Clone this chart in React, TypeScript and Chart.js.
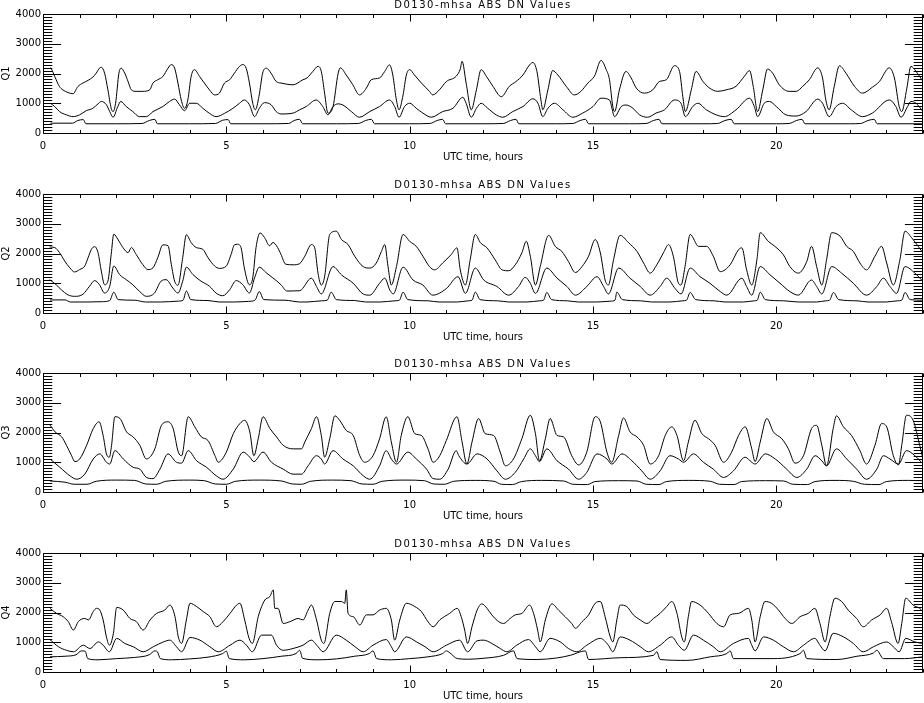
import React, { useEffect, useRef } from 'react';
import { Chart, registerables } from 'chart.js';

Chart.register(...registerables);
Chart.defaults.font.family = '"DejaVu Sans", sans-serif';
Chart.defaults.font.size = 10;
Chart.defaults.color = '#000';

type Pt = [number, number];

const chartTitle = 'D0130-mhsa ABS DN Values';
const xAxisTitle = 'UTC time, hours';
const panelNames = ['Q1', 'Q2', 'Q3', 'Q4'];
const xTickValues = [0, 5, 10, 15, 20];
const yTickValues = [0, 1000, 2000, 3000, 4000];

// Q1: upper, middle, lower traces (hour, DN)
const q1Upper: Pt[] = [
  [0.2, 2190], [0.23, 2150], [0.32, 1900], [0.45, 1560], [0.54, 1450], [0.68, 1360], [0.82, 1320], [0.95, 1560],
  [1.09, 1680], [1.23, 1770], [1.36, 1880], [1.45, 2010], [1.54, 2180], [1.59, 2210], [1.68, 2010], [1.77, 1450],
  [1.86, 830], [1.91, 720], [1.98, 1000], [2.07, 2010], [2.13, 2180], [2.23, 2010], [2.32, 1730], [2.41, 1450],
  [2.54, 1400], [2.72, 1400], [2.91, 1450], [3.0, 1680], [3.13, 1790], [3.27, 1900], [3.41, 2180], [3.5, 2300],
  [3.59, 2180], [3.68, 1680], [3.77, 1110], [3.86, 830], [3.95, 1110], [4.04, 1900], [4.13, 2130], [4.27, 1900],
  [4.4, 1680], [4.54, 1450], [4.68, 1280], [4.81, 1340], [4.95, 1680], [5.09, 1790], [5.22, 2010], [5.36, 2240],
  [5.45, 2300], [5.54, 2180], [5.63, 1680], [5.72, 1000], [5.79, 780], [5.89, 1230], [5.99, 2010], [6.09, 2180],
  [6.22, 2010], [6.36, 1730], [6.49, 1680], [6.82, 1620], [7.09, 1790],
  [7.2, 1850], [7.36, 2070], [7.5, 2240], [7.59, 2070], [7.68, 1340], [7.77, 670], [7.91, 890], [8.05, 2010],
  [8.11, 2190], [8.27, 1950], [8.45, 1620], [8.63, 1280], [8.82, 1510], [8.95, 1790], [9.18, 1850], [9.32, 2070],
  [9.45, 2290], [9.54, 1950], [9.63, 1170], [9.71, 780], [9.82, 1280], [9.91, 1950], [10.0, 2130], [10.13, 1950],
  [10.32, 1680], [10.54, 1400], [10.63, 1280], [10.81, 1450], [11.0, 1730], [11.27, 1910], [11.38, 2150], [11.43, 2410],
  [11.54, 1680], [11.68, 780], [11.82, 1450], [11.95, 2130], [12.09, 1910], [12.27, 1570], [12.5, 1220], [12.72, 1570],
  [12.9, 1730], [13.09, 1950], [13.27, 2290], [13.36, 2370], [13.47, 2070], [13.58, 1110], [13.63, 780], [13.77, 1450],
  [13.9, 2100], [14.04, 1950], [14.27, 1570], [14.49, 1280], [14.67, 1400], [14.86, 1680], [15.04, 1910], [15.22, 2440],
  [15.36, 2130], [15.45, 1790], [15.54, 890], [15.59, 720], [15.72, 1450], [15.9, 2070], [16.04, 1850], [16.18, 1510],
  [16.4, 1340], [16.63, 1450], [16.81, 1730], [17.0, 1790], [17.22, 2260], [17.36, 2070], [17.45, 1220], [17.52, 720],
  [17.68, 1450], [17.81, 2070], [18.0, 1730], [18.18, 1510], [18.4, 1400], [18.63, 1450], [18.9, 1570], [19.13, 1910],
  [19.27, 2100], [19.37, 1570], [19.49, 720], [19.63, 1450], [19.76, 2150], [19.9, 2010], [20.08, 1620], [20.35, 1400],
  [20.54, 1400], [20.72, 1570], [20.9, 1790], [21.13, 2190], [21.26, 1850], [21.35, 1110], [21.44, 780], [21.58, 1570],
  [21.72, 2260], [21.9, 2010], [22.13, 1570], [22.35, 1340], [22.62, 1540], [22.81, 1730], [23.08, 2190], [23.22, 1850],
  [23.35, 890], [23.42, 720], [23.56, 1510], [23.67, 2240], [23.81, 2070], [24.0, 1730],
];
const q1Middle: Pt[] = [
  [0.2, 1000], [0.32, 890], [0.45, 720], [0.64, 610], [0.82, 550], [1.0, 610], [1.18, 750], [1.36, 830],
  [1.5, 980], [1.59, 1060], [1.73, 950], [1.82, 720], [1.91, 530], [2.04, 890], [2.12, 1060], [2.27, 890],
  [2.45, 720], [2.63, 550], [2.82, 550], [3.0, 720], [3.27, 890], [3.45, 1060], [3.59, 1140], [3.72, 950],
  [3.86, 750], [4.0, 1000], [4.18, 1000], [4.36, 830], [4.54, 660], [4.72, 550], [4.95, 660], [5.18, 830],
  [5.36, 1000], [5.49, 1110], [5.63, 950], [5.77, 550], [5.9, 830], [6.04, 1020], [6.22, 950], [6.36, 720],
  [6.49, 640], [6.82, 670],
  [7.0, 780], [7.18, 890], [7.45, 1110], [7.63, 890], [7.77, 610], [7.91, 890], [8.05, 980], [8.18, 940],
  [8.41, 720], [8.63, 530], [8.91, 720], [9.18, 890], [9.45, 1110], [9.59, 890], [9.71, 530], [9.86, 890],
  [10.0, 1000], [10.18, 830], [10.36, 670], [10.59, 530], [10.9, 720], [11.18, 830], [11.45, 1200], [11.54, 1000],
  [11.68, 530], [11.82, 830], [11.95, 1000], [12.13, 830], [12.36, 610], [12.54, 530], [12.81, 720], [13.09, 890],
  [13.36, 1150], [13.5, 1000], [13.63, 550], [13.77, 830], [13.95, 1000], [14.18, 780], [14.45, 530], [14.72, 670],
  [15.0, 890], [15.22, 1170], [15.45, 1110], [15.59, 550], [15.77, 890], [15.9, 940], [16.09, 830], [16.27, 610],
  [16.49, 530], [16.72, 670], [16.95, 780], [17.22, 1110], [17.4, 1000], [17.52, 550], [17.72, 890], [17.86, 1000],
  [18.09, 780], [18.36, 610], [18.58, 550], [18.9, 780], [19.27, 1170], [19.4, 890], [19.49, 550], [19.67, 1000],
  [19.81, 1060], [20.0, 890], [20.26, 610], [20.54, 570], [20.81, 720], [21.13, 1140], [21.26, 1000], [21.44, 550],
  [21.63, 890], [21.81, 1000], [22.04, 780], [22.35, 550], [22.62, 670], [23.08, 1110], [23.26, 890], [23.4, 530],
  [23.58, 890], [23.67, 1060], [23.81, 1000], [24.0, 720],
];
const q1Lower: Pt[] = [
  [0.2, 330], [0.8, 330], [0.95, 420], [1.1, 450], [1.17, 310], [2.0, 310], [2.7, 320], [2.9, 420],
  [3.05, 460], [3.12, 310], [4.0, 310], [4.7, 320], [4.9, 430], [5.05, 450], [5.12, 310], [6.0, 310],
  [6.7, 320], [6.85, 420], [7.0, 460], [7.08, 310], [8.0, 310], [8.6, 320], [8.8, 420], [8.96, 460],
  [9.04, 310], [10.0, 310], [10.55, 320], [10.75, 420], [10.9, 460], [10.98, 310], [12.0, 310], [12.55, 320],
  [12.75, 420], [12.9, 460], [12.98, 310], [14.0, 310], [14.45, 320], [14.65, 420], [14.8, 460], [14.88, 310],
  [16.0, 310], [16.45, 320], [16.65, 420], [16.8, 460], [16.88, 310], [18.0, 310], [18.4, 320], [18.6, 420],
  [18.77, 460], [18.85, 310], [20.0, 310], [20.35, 320], [20.55, 420], [20.7, 460], [20.78, 310], [22.0, 310],
  [22.3, 320], [22.5, 420], [22.67, 460], [22.75, 310], [24.0, 310],
];

// Q2
const q2Upper: Pt[] = [
  [0.18, 2220], [0.32, 2200], [0.45, 2030], [0.59, 1750], [0.73, 1520], [0.86, 1380], [1.0, 1460], [1.14, 1580],
  [1.23, 1860], [1.32, 2140], [1.41, 2230], [1.5, 2030], [1.59, 1410], [1.68, 950], [1.77, 1070], [1.86, 1970],
  [1.93, 2650], [2.04, 2480], [2.18, 2200], [2.32, 2030], [2.41, 2200], [2.54, 1970], [2.72, 1630], [2.86, 1460],
  [3.0, 1520], [3.13, 1860], [3.27, 2290], [3.41, 2260], [3.5, 1630], [3.59, 1070], [3.68, 930], [3.81, 1860],
  [3.91, 2630], [4.04, 2370], [4.18, 2200], [4.36, 2140], [4.5, 1860], [4.68, 1580], [4.81, 1500], [5.0, 1580],
  [5.13, 1970], [5.22, 2290], [5.31, 2310], [5.4, 2200], [5.49, 1520], [5.63, 950], [5.72, 1180], [5.81, 2200],
  [5.92, 2690], [6.04, 2540], [6.18, 2260], [6.27, 2370], [6.4, 2200], [6.49, 1970], [6.62, 1640], [6.82, 1620],
  [7.0, 1660], [7.14, 1910], [7.32, 2300], [7.41, 2190],
  [7.5, 1340], [7.59, 940], [7.68, 1220], [7.82, 2640], [8.0, 2750], [8.14, 2470], [8.32, 2300], [8.5, 1910],
  [8.73, 1560], [8.91, 1510], [9.09, 1680], [9.23, 2070], [9.32, 2300], [9.41, 1560], [9.5, 940], [9.64, 1560],
  [9.82, 2640], [10.0, 2410], [10.18, 2240], [10.36, 1910], [10.54, 1560], [10.68, 1450], [10.9, 1680], [11.13, 1960],
  [11.29, 2190], [11.38, 1450], [11.52, 940], [11.65, 1790], [11.79, 2640], [11.93, 2360], [12.11, 2190], [12.33, 1790],
  [12.52, 1450], [12.7, 1420], [12.88, 1620], [13.06, 2020], [13.18, 2410], [13.29, 1910], [13.43, 940], [13.56, 1560],
  [13.79, 2610], [13.97, 2240], [14.15, 2070], [14.33, 1730], [14.52, 1360], [14.7, 1560], [14.88, 1910], [15.06, 2470],
  [15.2, 2020], [15.33, 1110], [15.42, 940], [15.56, 1790], [15.74, 2610], [15.97, 2360], [16.2, 2070], [16.38, 1680],
  [16.56, 1340], [16.74, 1620], [16.92, 2020], [17.06, 2300], [17.19, 1910], [17.33, 1000], [17.4, 940], [17.51, 1560],
  [17.65, 2640], [17.88, 2240], [18.1, 2240], [18.28, 1910], [18.47, 1390], [18.74, 1620], [18.97, 2130], [19.06, 2190],
  [19.19, 1450], [19.33, 940], [19.47, 1790], [19.56, 2700], [19.78, 2410], [19.96, 2240], [20.19, 1960], [20.37, 1560],
  [20.6, 1340], [20.83, 1730], [20.96, 2240], [21.1, 1560], [21.24, 940], [21.37, 1790], [21.51, 2700], [21.74, 2580],
  [21.92, 2240], [22.1, 2070], [22.28, 1680], [22.46, 1450], [22.69, 1910], [22.87, 2240], [23.01, 1680], [23.19, 940],
  [23.37, 1790], [23.51, 2750], [23.69, 2530], [23.87, 2240], [24.0, 2020],
];
const q2Middle: Pt[] = [
  [0.18, 1120], [0.36, 950], [0.5, 780], [0.68, 610], [0.86, 560], [1.09, 630], [1.27, 900], [1.41, 1090],
  [1.54, 950], [1.68, 670], [1.82, 900], [1.93, 1580], [2.09, 1290], [2.27, 1120], [2.45, 950], [2.63, 730],
  [2.82, 560], [3.04, 670], [3.22, 1070], [3.36, 1120], [3.54, 840], [3.68, 670], [3.81, 1070], [3.91, 1540],
  [4.09, 1290], [4.31, 1070], [4.54, 900], [4.72, 670], [4.9, 580], [5.09, 780], [5.27, 1090], [5.45, 950],
  [5.63, 670], [5.77, 1180], [5.9, 1540], [6.09, 1350], [6.27, 1180], [6.49, 950], [6.65, 740], [7.0, 750],
  [7.32, 1170], [7.46, 890], [7.59, 640], [7.91, 1560], [8.14, 1280], [8.46, 1000],
  [8.73, 640], [8.91, 600], [9.18, 1000], [9.32, 1170], [9.46, 770], [9.55, 640], [9.82, 1540], [10.09, 1110],
  [10.36, 940], [10.63, 600], [11.0, 820], [11.32, 1220], [11.52, 660], [11.79, 1510], [12.02, 1110], [12.38, 890],
  [12.7, 600], [12.97, 890], [13.15, 1200], [13.29, 1000], [13.43, 660], [13.74, 1510], [14.02, 1170], [14.29, 890],
  [14.52, 600], [14.83, 890], [15.11, 1220], [15.29, 890], [15.42, 640], [15.7, 1510], [16.01, 1170], [16.29, 890],
  [16.56, 600], [16.83, 890], [17.01, 1170], [17.24, 820], [17.4, 640], [17.65, 1510], [17.92, 1220], [18.19, 1000],
  [18.47, 720], [18.65, 600], [19.06, 1170], [19.19, 890], [19.33, 600], [19.56, 1560], [19.83, 1280], [20.1, 1000],
  [20.37, 720], [20.6, 600], [20.96, 1110], [21.1, 890], [21.24, 640], [21.51, 1560], [21.78, 1340], [22.1, 1000],
  [22.46, 600], [22.74, 890], [22.92, 1170], [23.1, 890], [23.28, 660], [23.51, 1560], [23.78, 1340], [24.0, 1060],
];
const q2Lower: Pt[] = [
  [0.19, 440], [0.6, 440], [0.75, 370], [1.2, 370], [1.6, 380], [1.82, 420], [1.93, 700], [2.05, 450],
  [2.5, 430], [2.8, 370], [3.2, 370], [3.7, 400], [3.82, 430], [3.91, 740], [4.03, 450], [4.5, 420],
  [4.8, 370], [5.2, 370], [5.6, 390], [5.78, 430], [5.9, 720], [6.02, 450], [6.6, 430], [7.0, 370],
  [7.2, 370], [7.6, 410], [7.75, 430], [7.86, 700], [8.0, 450], [8.5, 420], [8.8, 370], [9.2, 370],
  [9.6, 410], [9.72, 430], [9.82, 700], [9.95, 450], [10.5, 410], [10.8, 370], [11.3, 370], [11.6, 410],
  [11.7, 430], [11.79, 700], [11.92, 450], [12.4, 410], [12.7, 370], [13.2, 370], [13.55, 410], [13.65, 430],
  [13.74, 690], [13.87, 450], [14.3, 410], [14.6, 370], [15.1, 370], [15.5, 400], [15.6, 430], [15.65, 700],
  [15.8, 450], [16.3, 410], [16.6, 370], [17.1, 370], [17.45, 410], [17.55, 430], [17.65, 690], [17.8, 450],
  [18.3, 410], [18.6, 370], [19.1, 370], [19.4, 410], [19.48, 430], [19.56, 700], [19.7, 450], [20.2, 410],
  [20.6, 370], [21.1, 370], [21.35, 410], [21.45, 430], [21.56, 690], [21.7, 450], [22.2, 410], [22.5, 370],
  [23.0, 370], [23.3, 410], [23.42, 430], [23.51, 690], [23.65, 450], [24.0, 430],
];

// Q3
const q3Upper: Pt[] = [
  [0.19, 2250], [0.33, 2020], [0.51, 1850], [0.64, 1570], [0.78, 1220], [0.87, 1020], [1.0, 1110], [1.19, 1570],
  [1.37, 2130], [1.53, 2360], [1.64, 1900], [1.73, 1280], [1.81, 1170], [1.87, 1570], [1.96, 2530], [2.1, 2470],
  [2.28, 2020], [2.46, 1850], [2.64, 1570], [2.82, 1110], [3.05, 1450], [3.23, 2240], [3.41, 2360], [3.55, 2130],
  [3.69, 1340], [3.78, 1220], [3.96, 2530], [4.14, 2190], [4.32, 1850], [4.5, 1730], [4.69, 1220], [4.78, 1000],
  [5.0, 1340], [5.19, 1960], [5.37, 2300], [5.5, 2410], [5.64, 2020], [5.75, 1220], [5.87, 1790], [6.0, 2530],
  [6.19, 2130], [6.37, 1850], [6.55, 1570], [6.82, 1450], [7.05, 1450], [7.14, 1680], [7.32, 2130], [7.46, 2530],
  [7.59, 1900], [7.68, 1170], [7.82, 1790], [7.96, 2560], [8.09, 2410], [8.27, 2070], [8.46, 1900], [8.64, 1220],
  [8.77, 1000], [9.0, 1220], [9.18, 1790], [9.36, 2530], [9.5, 1680], [9.64, 1000], [9.77, 1900], [9.95, 2530],
  [10.14, 1960], [10.32, 1900], [10.5, 1450], [10.64, 1000], [10.82, 1220], [11.0, 1730], [11.29, 2530], [11.43, 1680],
  [11.56, 940], [11.7, 1680], [11.88, 2470], [12.06, 1960], [12.29, 1900], [12.47, 1340], [12.61, 880], [12.83, 1110],
  [13.06, 1790], [13.29, 2580], [13.43, 1960], [13.54, 1050], [13.7, 1790], [13.83, 2470], [14.02, 1900], [14.2, 1850],
  [14.42, 1220], [14.61, 910], [14.83, 1340], [15.06, 2530], [15.2, 2360], [15.38, 1340], [15.51, 1000], [15.7, 1900],
  [15.83, 2490], [16.01, 2020], [16.2, 1850], [16.38, 1570], [16.56, 940], [16.79, 1220], [16.97, 1900], [17.15, 2190],
  [17.29, 1900], [17.47, 1050], [17.6, 1680], [17.78, 2410], [17.97, 1960], [18.15, 1790], [18.33, 1570], [18.56, 1000],
  [18.78, 1340], [18.97, 1900], [19.15, 2190], [19.33, 1450], [19.42, 1020], [19.56, 1680], [19.74, 2470], [19.92, 2020],
  [20.15, 1790], [20.33, 1450], [20.51, 970], [20.74, 1220], [20.96, 2130], [21.1, 2240], [21.24, 1570], [21.37, 880],
  [21.55, 2130], [21.64, 2560], [21.83, 2190], [22.05, 1900], [22.28, 1390], [22.46, 940], [22.69, 1570], [22.87, 2300],
  [23.01, 2190], [23.19, 1220], [23.33, 910], [23.42, 1570], [23.55, 2580], [23.73, 2410], [23.91, 1570], [24.0, 1110],
];
const q3Middle: Pt[] = [
  [0.19, 1110], [0.46, 830], [0.74, 540], [0.92, 430], [1.14, 600], [1.37, 1110], [1.55, 1280], [1.73, 1000],
  [1.82, 940], [1.96, 1390], [2.19, 1110], [2.46, 830], [2.64, 770], [2.82, 490], [3.0, 450], [3.19, 770],
  [3.41, 1280], [3.64, 1000], [3.78, 970], [3.96, 1390], [4.19, 1050], [4.46, 830], [4.73, 540], [4.91, 430],
  [5.19, 770], [5.46, 1340], [5.64, 1170], [5.75, 1020], [6.0, 1340], [6.23, 1000], [6.55, 770], [6.82, 600],
  [7.05, 600], [7.23, 880], [7.46, 1220], [7.59, 1110], [7.68, 940], [7.91, 1390], [8.18, 1110], [8.46, 880],
  [8.74, 540], [8.91, 430], [9.18, 880], [9.36, 1390], [9.5, 1110], [9.64, 940], [9.95, 1340], [10.18, 1110],
  [10.46, 770], [10.64, 450], [10.82, 430], [11.05, 770], [11.27, 1390], [11.34, 1220], [11.56, 940], [11.84, 1280],
  [12.11, 1110], [12.38, 710], [12.61, 430], [12.88, 660], [13.11, 1110], [13.29, 1450], [13.43, 1220], [13.54, 1020],
  [13.74, 1450], [14.02, 1050], [14.33, 770], [14.61, 430], [14.83, 660], [15.11, 1280], [15.38, 1110], [15.51, 940],
  [15.79, 1280], [16.06, 1050], [16.33, 710], [16.56, 430], [16.83, 710], [17.1, 1220], [17.33, 1110], [17.47, 1000],
  [17.74, 1280], [18.01, 1000], [18.28, 770], [18.56, 490], [18.83, 710], [19.15, 1170], [19.33, 1000], [19.42, 940],
  [19.7, 1280], [19.97, 1110], [20.28, 770], [20.56, 490], [20.83, 770], [21.06, 1220], [21.24, 1050], [21.37, 880],
  [21.64, 1450], [21.92, 1110], [22.19, 770], [22.46, 430], [22.74, 770], [22.92, 1220], [23.1, 1110], [23.33, 940],
  [23.55, 1390], [23.78, 1220], [24.0, 940],
];
const q3Lower: Pt[] = [
  [0.19, 370], [0.6, 330], [0.85, 260], [1.2, 260], [1.45, 360], [2.0, 400], [2.5, 390], [2.8, 270],
  [3.1, 260], [3.35, 360], [4.0, 400], [4.4, 380], [4.7, 270], [5.0, 260], [5.25, 360], [5.9, 400],
  [6.5, 370], [6.8, 270], [7.05, 260], [7.3, 360], [7.9, 400], [8.4, 380], [8.7, 270], [9.0, 260],
  [9.25, 360], [9.9, 400], [10.4, 380], [10.65, 270], [10.95, 260], [11.2, 360], [11.8, 390], [12.3, 360],
  [12.5, 260], [12.8, 250], [13.05, 350], [13.6, 390], [14.2, 370], [14.45, 260], [14.85, 250], [15.05, 350],
  [15.7, 380], [16.2, 370], [16.45, 260], [16.8, 250], [17.0, 350], [17.6, 390], [18.2, 360], [18.45, 260],
  [18.85, 250], [19.05, 350], [19.7, 380], [20.2, 370], [20.45, 260], [20.85, 250], [21.05, 350], [21.6, 390],
  [22.1, 360], [22.4, 260], [22.8, 250], [23.0, 350], [23.6, 390], [24.0, 380],
];

// Q4
const q4Upper: Pt[] = [
  [0.19, 2140], [0.37, 1970], [0.55, 1860], [0.69, 1690], [0.83, 1410], [0.96, 1690], [1.14, 1800], [1.24, 1750],
  [1.37, 2030], [1.46, 2140], [1.55, 2080], [1.64, 1750], [1.73, 1180], [1.81, 900], [1.92, 1300], [2.01, 2170],
  [2.19, 2080], [2.37, 1800], [2.55, 1690], [2.73, 1410], [2.92, 1750], [3.1, 1970], [3.32, 2080], [3.46, 2250],
  [3.6, 1860], [3.69, 1180], [3.78, 960], [3.91, 1750], [4.01, 2310], [4.19, 2200], [4.37, 2030], [4.55, 1860],
  [4.73, 1520], [4.91, 1690], [5.1, 1970], [5.28, 2250], [5.37, 2310], [5.5, 1750], [5.62, 1130], [5.71, 960],
  [5.87, 1860], [6.05, 2420], [6.19, 2540], [6.28, 2760], [6.32, 2140], [6.41, 2140], [6.55, 1630], [6.73, 1690],
  [6.96, 1800], [7.09, 1750], [7.23, 2080], [7.32, 2250], [7.46, 1750], [7.59, 1070], [7.66, 960], [7.82, 1970],
  [7.96, 2370], [8.14, 2370], [8.23, 2310], [8.27, 2760], [8.32, 1970], [8.46, 1860], [8.64, 1580], [8.82, 1920],
  [9.0, 1920], [9.18, 2080], [9.36, 2140], [9.5, 1750], [9.59, 1070], [9.73, 1750], [9.91, 2310], [10.14, 2200],
  [10.32, 2030], [10.5, 1690], [10.64, 1520], [10.82, 1750], [11.09, 1970], [11.3, 2140], [11.42, 1800], [11.5, 1410],
  [11.58, 960], [11.7, 1520], [11.84, 2080], [11.97, 2290], [12.11, 2140], [12.24, 1920], [12.43, 1690], [12.56, 1630],
  [12.74, 1800], [12.88, 1920], [13.06, 1970], [13.27, 2250], [13.38, 1970], [13.49, 1410], [13.56, 1010], [13.7, 1750],
  [13.88, 2290], [14.06, 2080], [14.24, 1860], [14.42, 1630], [14.52, 1470], [14.7, 1690], [14.88, 1920], [15.06, 2310],
  [15.2, 2370], [15.33, 1860], [15.47, 1180], [15.54, 1010], [15.65, 1750], [15.74, 2250], [15.92, 2200], [16.1, 1920],
  [16.29, 1750], [16.47, 1630], [16.65, 1800], [16.83, 1970], [17.01, 2200], [17.15, 2370], [17.29, 1970], [17.42, 1180],
  [17.49, 1010], [17.6, 1860], [17.69, 2370], [17.92, 2250], [18.15, 1970], [18.38, 1630], [18.56, 1520], [18.74, 1920],
  [18.97, 1970], [19.24, 2140], [19.33, 1750], [19.42, 1010], [19.56, 1860], [19.69, 2370], [19.87, 2310], [20.06, 2080],
  [20.24, 1800], [20.42, 1630], [20.65, 1860], [20.87, 1970], [21.05, 2140], [21.19, 1630], [21.33, 1010], [21.46, 1860],
  [21.6, 2480], [21.78, 2370], [21.96, 2080], [22.19, 1800], [22.37, 1520], [22.6, 1750], [22.83, 1920], [23.01, 2140],
  [23.14, 1690], [23.32, 960], [23.42, 1630], [23.53, 2480], [23.73, 2250], [23.91, 2140], [24.0, 2030],
];
const q4Middle: Pt[] = [
  [0.19, 1090], [0.42, 850], [0.64, 730], [0.83, 680], [1.1, 900], [1.28, 790], [1.51, 1010], [1.64, 900],
  [1.81, 680], [2.01, 1130], [2.23, 960], [2.46, 850], [2.73, 680], [3.01, 850], [3.28, 1010], [3.46, 1070],
  [3.64, 850], [3.78, 680], [4.01, 1160], [4.28, 1070], [4.55, 850], [4.78, 680], [5.1, 900], [5.37, 1070],
  [5.55, 900], [5.71, 680], [5.96, 1240], [6.23, 1240], [6.37, 900], [6.55, 730], [6.82, 790], [7.09, 900],
  [7.32, 1070], [7.5, 850], [7.64, 680], [8.0, 1240], [8.27, 1070], [8.51, 850], [8.73, 680], [9.0, 900],
  [9.36, 1090], [9.5, 850], [9.59, 680], [9.91, 1180], [10.19, 1010], [10.42, 850], [10.64, 680], [11.0, 900],
  [11.36, 1070], [11.58, 680], [11.84, 1050], [12.02, 1070], [12.24, 960], [12.47, 790], [12.65, 680], [12.92, 900],
  [13.24, 1090], [13.43, 850], [13.56, 680], [13.83, 1130], [14.11, 1010], [14.33, 790], [14.56, 680], [14.83, 900],
  [15.2, 1130], [15.42, 900], [15.54, 680], [15.74, 1180], [16.01, 1070], [16.29, 850], [16.51, 680], [16.83, 900],
  [17.15, 1180], [17.33, 900], [17.49, 730], [17.74, 1240], [18.01, 1070], [18.28, 850], [18.47, 680], [18.83, 960],
  [19.24, 1130], [19.33, 900], [19.42, 710], [19.65, 1180], [19.92, 1070], [20.19, 850], [20.47, 680], [20.74, 900],
  [21.05, 1130], [21.19, 900], [21.33, 710], [21.55, 1300], [21.83, 1180], [22.1, 960], [22.37, 680], [22.65, 850],
  [23.01, 1010], [23.19, 850], [23.35, 680], [23.53, 1130], [23.78, 1010], [24.0, 960],
];
const q4Lower: Pt[] = [
  [0.19, 510], [0.6, 530], [0.9, 580], [1.05, 710], [1.15, 700], [1.22, 450], [1.5, 410], [2.0, 450],
  [2.5, 490], [2.9, 580], [3.05, 710], [3.12, 680], [3.2, 450], [3.5, 410], [4.0, 440], [4.5, 500],
  [4.9, 620], [5.0, 700], [5.08, 450], [5.5, 410], [6.0, 450], [6.5, 530], [6.9, 620], [7.0, 730],
  [7.08, 460], [7.5, 410], [8.0, 440], [8.5, 530], [8.9, 620], [9.0, 710], [9.1, 450], [9.5, 410],
  [10.0, 450], [10.5, 510], [10.9, 620], [11.0, 710], [11.1, 640], [11.3, 450], [11.6, 430], [12.0, 460],
  [12.56, 560], [12.83, 710], [12.93, 450], [13.47, 420], [14.0, 470], [14.38, 560], [14.79, 710], [14.88, 420],
  [15.74, 480], [16.65, 560], [16.74, 680], [16.83, 420], [17.56, 390], [18.2, 510], [18.65, 620], [18.74, 710],
  [18.83, 450], [19.83, 450], [20.65, 620], [20.74, 730], [20.83, 450], [21.65, 420], [22.2, 530], [22.65, 640],
  [22.74, 730], [22.92, 450], [23.5, 450], [24.0, 510],
];

const panelSeries: Pt[][][] = [
  [q1Upper, q1Middle, q1Lower],
  [q2Upper, q2Middle, q2Lower],
  [q3Upper, q3Middle, q3Lower],
  [q4Upper, q4Middle, q4Lower],
];
const panelTops = [0, 180, 359, 539];

// IDL style frame: box, inward ticks on all four sides, title above
const idlFrame = {
  id: 'idlFrame',
  afterDraw(chart: any) {
    const { ctx, chartArea: a, scales } = chart;
    const xs = scales.x;
    const ys = scales.y;
    const L = Math.round(a.left) + 0.5;
    const R = Math.round(a.right) - 0.5;
    const T = Math.round(a.top) + 0.5;
    const B = Math.round(a.bottom) + 0.5;
    ctx.save();
    ctx.strokeStyle = '#000';
    ctx.lineWidth = 1;
    ctx.beginPath();
    for (let h = 0; h <= 24; h++) {
      const px = Math.round(xs.getPixelForValue(h)) + 0.5;
      const len = h % 5 === 0 ? 7 : 3.5;
      ctx.moveTo(px, B);
      ctx.lineTo(px, B - len);
      ctx.moveTo(px, T);
      ctx.lineTo(px, T + len);
    }
    for (let v = 0; v <= 4000; v += 100) {
      const py = Math.round(ys.getPixelForValue(v)) + 0.5;
      const len = v % 1000 === 0 ? 17.6 : 8.8;
      ctx.moveTo(L, py);
      ctx.lineTo(L + len, py);
      ctx.moveTo(R, py);
      ctx.lineTo(R - len, py);
    }
    ctx.rect(L, T, R - L, B - T);
    ctx.stroke();

    ctx.fillStyle = '#000';
    ctx.font = '10px "DejaVu Sans", sans-serif';
    ctx.letterSpacing = '1.5px';
    ctx.textAlign = 'center';
    ctx.textBaseline = 'middle';
    ctx.fillText(chartTitle, (a.left + a.right) / 2, a.top - 8.5);
    ctx.restore();
  },
};

function Panel({ name, series, top }: { name: string; series: Pt[][]; top: number }) {
  const canvasRef = useRef<HTMLCanvasElement>(null);

  useEffect(() => {
    if (!canvasRef.current) return;
    const chart = new Chart(canvasRef.current, {
      type: 'line',
      data: {
        datasets: series.map((s) => ({
          data: s.map(([x, y]) => ({ x, y })),
          borderColor: '#000',
          borderWidth: 1,
          pointRadius: 0,
          fill: false,
          cubicInterpolationMode: 'monotone' as const,
        })),
      },
      options: {
        animation: false,
        responsive: false,
        events: [],
        layout: { padding: { top: 14, right: 1, left: 0, bottom: 0 } },
        plugins: {
          legend: { display: false },
          tooltip: { enabled: false },
          title: { display: false },
        },
        scales: {
          x: {
            type: 'linear',
            min: 0,
            max: 24,
            afterBuildTicks: (s: any) => {
              s.ticks = xTickValues.map((value) => ({ value }));
            },
            afterFit: (s: any) => {
              s.height = 31;
            },
            grid: { display: false, drawTicks: false },
            border: { display: false },
            ticks: {
              padding: 7,
              maxRotation: 0,
              autoSkip: false,
              callback: (v: any) => String(v),
            },
            title: { display: true, text: xAxisTitle, padding: { top: 0, bottom: 0.5 } },
          },
          y: {
            type: 'linear',
            min: 0,
            max: 4000,
            afterBuildTicks: (s: any) => {
              s.ticks = yTickValues.map((value) => ({ value }));
            },
            afterFit: (s: any) => {
              s.width = 43;
            },
            grid: { display: false, drawTicks: false },
            border: { display: false },
            ticks: { padding: 2, autoSkip: false, callback: (v: any) => String(v) },
            title: { display: true, text: name, padding: { top: 0, bottom: 0 } },
          },
        },
      },
      plugins: [idlFrame],
    });
    return () => chart.destroy();
  }, [name, series]);

  return (
    <div style={{ position: 'absolute', left: 0, top, width: 924, height: 164 }}>
      <canvas ref={canvasRef} width={924} height={164} style={{ width: 924, height: 164 }} />
    </div>
  );
}

export default function App() {
  return (
    <div style={{ position: 'absolute', left: 0, top: 0, width: 924, height: 703, background: '#fff', overflow: 'hidden' }}>
      {panelNames.map((name, i) => (
        <Panel key={name} name={name} series={panelSeries[i]} top={panelTops[i]} />
      ))}
    </div>
  );
}
